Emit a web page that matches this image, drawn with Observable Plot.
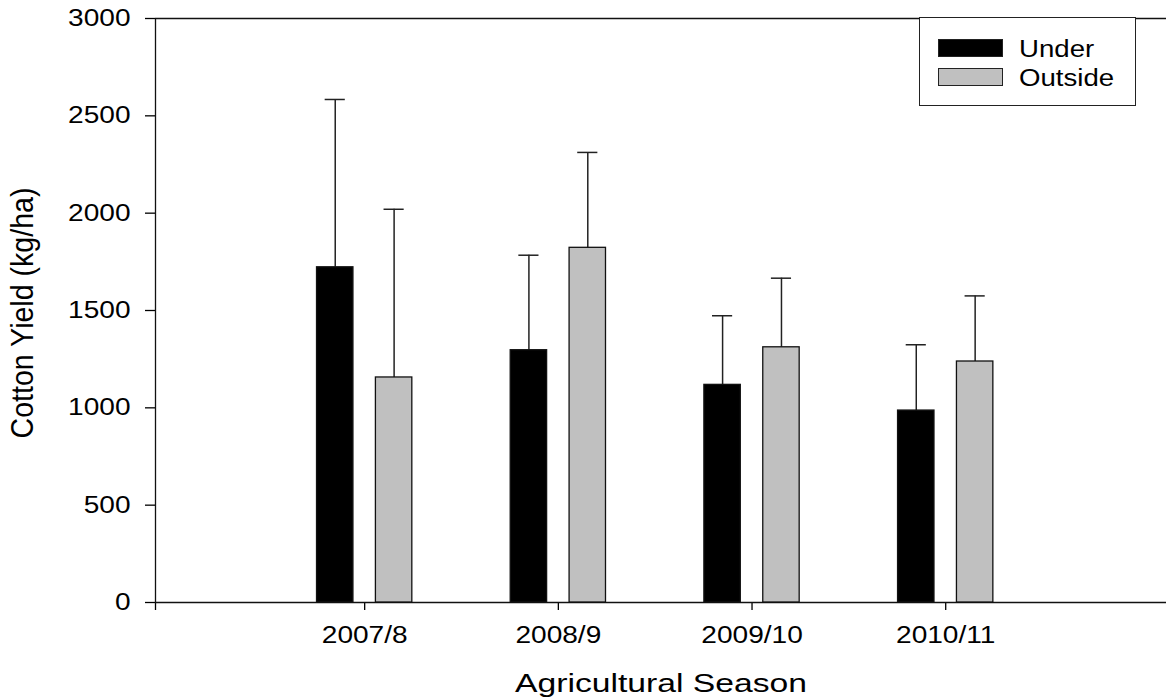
<!DOCTYPE html>
<html>
<head>
<meta charset="utf-8">
<script src="https://cdn.jsdelivr.net/npm/d3@7"></script>
<script src="https://cdn.jsdelivr.net/npm/@observablehq/plot@0.6"></script>
<style>
  html, body { margin: 0; padding: 0; background: #fff; }
  #wrap { position: relative; width: 1166px; height: 700px; font-family: "Liberation Sans", Arial, sans-serif; }
  #legend { position: absolute; left: 919px; top: 17px; width: 215px; height: 87px; border: 1.5px solid #222; background: #fff; }
  .sw { position: absolute; left: 18px; width: 63px; height: 16px; border: 1.3px solid #222; }
  .lab { position: absolute; left: 99px; font-size: 23px; line-height: 23px; color: #000; transform: scaleX(1.2); transform-origin: left center; white-space: nowrap; }
</style>
</head>
<body>
<div id="wrap"></div>
<script>
// ---- data ----
const seasons = ["2007/8", "2008/9", "2009/10", "2010/11"];
const groups = ["Under", "Outside"];
const underMean = [1722, 1296, 1118, 986];
const underSD = [862, 488, 355, 338];
const outsideMean = [1156, 1822, 1311, 1238];
const outsideSD = [864, 490, 355, 337];
const yTicks = [0, 500, 1000, 1500, 2000, 2500, 3000];
const groupColors = ["#000000", "#c0c0c0"];

// ---- layout/style constants ----
const xDomain = [-0.08, 5.14];
const groupOffset = {Under: -0.152, Outside: 0.152};
const halfBar = 0.094;
const capHalf = 0.052;
const hStretch = 1.22;

const rows = seasons.flatMap((s, i) => [
  {season: s, idx: i + 1, group: "Under", mean: underMean[i], sd: underSD[i]},
  {season: s, idx: i + 1, group: "Outside", mean: outsideMean[i], sd: outsideSD[i]}
]);
const cx = d => d.idx + groupOffset[d.group];

const chart = Plot.plot({
  width: 1166,
  height: 700,
  marginLeft: 155,
  marginRight: 0,
  marginTop: 18,
  marginBottom: 98,
  style: {fontFamily: "'Liberation Sans', Arial, sans-serif", fontSize: "23px", color: "#000", background: "#fff"},
  x: {type: "linear", domain: xDomain},
  y: {domain: [0, 3000]},
  color: {domain: groups, range: groupColors},
  marks: [
    Plot.axisY({ticks: yTicks, tickFormat: d => String(d), tickSize: 10, tickPadding: 15, label: null, strokeWidth: 1.3}),
    Plot.axisX({ticks: [xDomain[0], 1, 2, 3, 4], tickFormat: v => seasons[v - 1] ?? "", tickSize: 8, tickPadding: 16, label: null, strokeWidth: 1.3}),
    Plot.ruleY([0, 3000], {stroke: "#111", strokeWidth: 1.3}),
    Plot.ruleX([xDomain[0]], {stroke: "#111", strokeWidth: 1.3}),
    Plot.ruleX(rows, {x: cx, y1: "mean", y2: d => d.mean + d.sd, stroke: "#222", strokeWidth: 1.5}),
    Plot.ruleY(rows, {y: d => d.mean + d.sd, x1: d => cx(d) - capHalf, x2: d => cx(d) + capHalf, stroke: "#222", strokeWidth: 1.5}),
    Plot.rect(rows, {x1: d => cx(d) - halfBar, x2: d => cx(d) + halfBar, y1: 0, y2: "mean", fill: "group", stroke: "#111", strokeWidth: 1.3}),
    Plot.text(["Agricultural Season"], {text: d => d, frameAnchor: "bottom", dy: 81.5, lineAnchor: "middle", fontSize: 26}),
    Plot.text(["Cotton Yield (kg/ha)"], {text: d => d, frameAnchor: "left", rotate: -90, dx: -132, dy: 2.5, lineAnchor: "middle", textAnchor: "middle", fontSize: 30.5})
  ]
});

const wrap = document.getElementById("wrap");
wrap.append(chart);

// horizontal stretch of text to match the reference proportions
chart.querySelectorAll("text").forEach(t => {
  const s = t.textContent;
  if (!s) return;
  const len = t.getComputedTextLength();
  if (!len) return;
  let target;
  if (s === "Cotton Yield (kg/ha)") target = 251;
  else if (s === "Agricultural Season") target = 292;
  else target = len * hStretch;
  t.setAttribute("textLength", target.toFixed(1));
  t.setAttribute("lengthAdjust", "spacingAndGlyphs");
});

// legend
const legend = document.createElement("div");
legend.id = "legend";
const swTops = [21, 50];
const labTops = [20, 49];
groups.forEach((g, i) => {
  const sw = document.createElement("div");
  sw.className = "sw";
  sw.style.top = swTops[i] + "px";
  sw.style.background = groupColors[i];
  legend.append(sw);
  const lab = document.createElement("div");
  lab.className = "lab";
  lab.style.top = labTops[i] + "px";
  lab.textContent = g;
  legend.append(lab);
});
wrap.append(legend);
</script>
</body>
</html>
